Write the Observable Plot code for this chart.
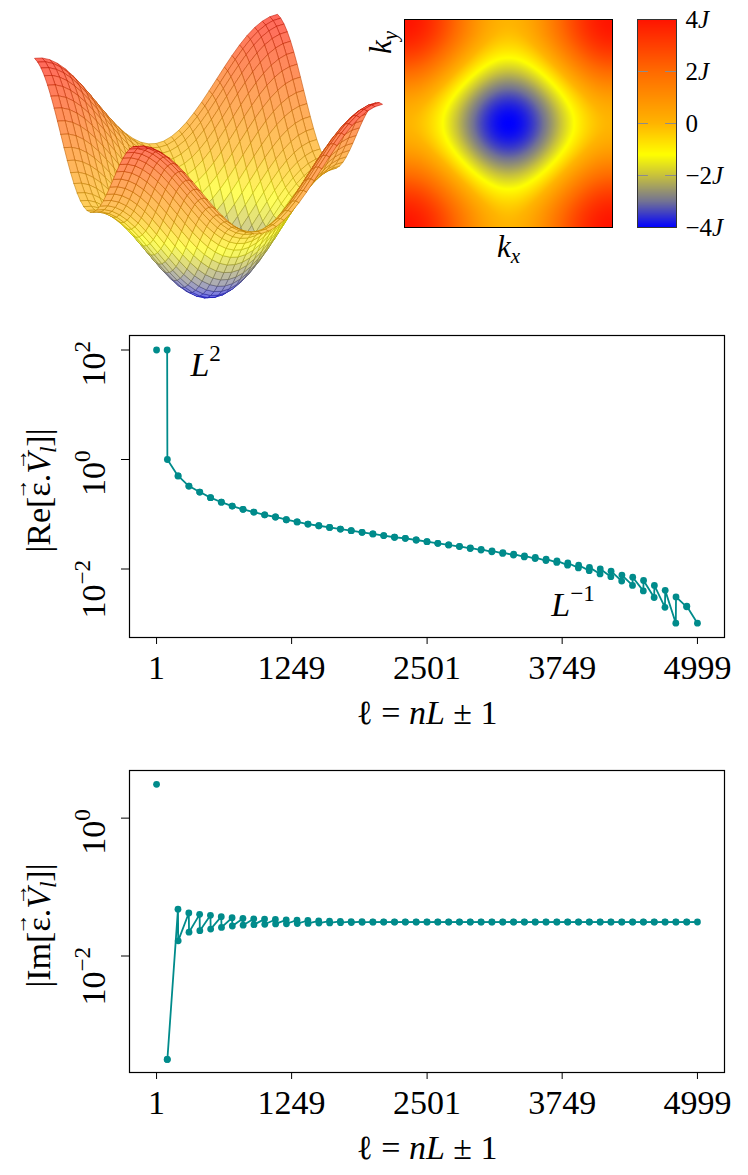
<!DOCTYPE html>
<html><head><meta charset="utf-8">
<script src="https://cdn.jsdelivr.net/npm/d3@7"></script>
<script src="https://cdn.jsdelivr.net/npm/@observablehq/plot@0.6"></script>
<style>
body{margin:0;background:#fff;}
#root{position:relative;width:748px;height:1175px;overflow:hidden;background:#fff;}
</style></head><body><div id="root"></div>
<script>
// ---------------- data ----------------
const xTicks = [1, 1249, 2501, 3749, 4999];
const reYTicks = [1e-2, 1e0, 1e2];
const imYTicks = [1e-2, 1e0];
const reYDomain = [Math.pow(10, -3.251), Math.pow(10, 2.265)];
const imYDomain = [Math.pow(10, -3.690), Math.pow(10, 0.691)];
const ells = [1, 99,101, 199,201, 299,301, 399,401, 499,501, 599,601, 699,701, 799,801, 899,901, 999,1001,
  1099,1101, 1199,1201, 1299,1301, 1399,1401, 1499,1501, 1599,1601, 1699,1701, 1799,1801, 1899,1901, 1999,2001,
  2099,2101, 2199,2201, 2299,2301, 2399,2401, 2499,2501, 2599,2601, 2699,2701, 2799,2801, 2899,2901, 2999,3001,
  3099,3101, 3199,3201, 3299,3301, 3399,3401, 3499,3501, 3599,3601, 3699,3701, 3799,3801, 3899,3901, 3999,4001,
  4099,4101, 4199,4201, 4299,4301, 4399,4401, 4499,4501, 4599,4601, 4699,4701, 4799,4801, 4899,4901, 4999];
// log10 |Re[eps.V_l]| in the same order as ells
const reLog10 = [2.0, 2.0,0.0, -0.30,-0.30, -0.485,-0.485, -0.594,-0.594, -0.697,-0.697, -0.78,-0.78, -0.85,-0.85,
  -0.91,-0.91, -0.96,-0.96, -1.01,-1.01, -1.05,-1.05, -1.10,-1.10, -1.14,-1.14, -1.18,-1.18, -1.21,-1.21,
  -1.24,-1.24, -1.27,-1.27, -1.30,-1.30, -1.33,-1.33, -1.36,-1.36, -1.39,-1.39, -1.42,-1.42, -1.44,-1.44,
  -1.47,-1.47, -1.50,-1.50, -1.53,-1.53, -1.56,-1.56, -1.59,-1.585, -1.625,-1.615, -1.655,-1.64, -1.685,-1.67,
  -1.715,-1.70, -1.745,-1.73, -1.78,-1.76, -1.81,-1.79, -1.845,-1.82, -1.88,-1.85, -1.93,-1.89, -1.98,-1.93,
  -2.03,-1.97, -2.09,-2.00, -2.14,-2.04, -2.22,-2.11, -2.30,-2.15, -2.40,-2.21, -2.52,-2.30, -2.70,-2.39,
  -2.99,-2.51, -2.69,-2.68, -2.99];
// log10 |Im[eps.V_l]| in the same order as ells
const imLog10 = [0.49,
  -3.50,-3.50,  -1.32,-1.78,   -1.376,-1.655, -1.396,-1.633, -1.41,-1.61,
  -1.43,-1.585, -1.445,-1.565, -1.455,-1.553, -1.46,-1.545,  -1.465,-1.54,
  -1.47,-1.535, -1.475,-1.532, -1.48,-1.53,   -1.485,-1.527, -1.49,-1.523,
  -1.494,-1.52, -1.497,-1.517, -1.50,-1.514,  -1.502,-1.512, -1.504,-1.51,
  -1.506,-1.508, -1.506,-1.508, -1.506,-1.508, -1.506,-1.508, -1.506,-1.508,
  -1.506,-1.508, -1.506,-1.508, -1.506,-1.508, -1.506,-1.508, -1.506,-1.508,
  -1.506,-1.508, -1.506,-1.508, -1.506,-1.508, -1.506,-1.508, -1.506,-1.508,
  -1.506,-1.508, -1.506,-1.508, -1.506,-1.508, -1.506,-1.508, -1.506,-1.508,
  -1.506,-1.508, -1.506,-1.508, -1.506,-1.508, -1.506,-1.508, -1.506,-1.508,
  -1.506,-1.508, -1.506,-1.508, -1.506,-1.508, -1.506,-1.508,
  -1.507];
const reNotes = [{ell: 314, log: 1.53, key: "L2"}, {ell: 3649, log: -2.85, key: "L-1"}];
// band energy colour map (units of J)
const energyStops = [-4, -3, -2, -1.2, 0, 2, 4];
const energyColors = ["#0000ff", "#727294", "#c8c23c", "#ffff00", "#ffb400", "#ff6a00", "#ff1400"];
const cbarTicks = [4, 2, 0, -2, -4];
const cbarLabels = ["4J", "2J", "0", "−2J", "−4J"];
const kCount = 33; // grid lines of the 3D mesh
const teal = "#008b8b";
const serif = '"Liberation Serif", "Times New Roman", serif';

// tight-binding band E(kx,ky) = -2J (cos kx + cos ky)
function energy(kx, ky) { return -2 * (Math.cos(kx) + Math.cos(ky)); }

// ---------------- rich text helpers ----------------
const RICH = {
  "10^2": [{t: "10"}, {t: "2", sup: 1}],
  "10^0": [{t: "10"}, {t: "0", sup: 1}],
  "10^-2": [{t: "10"}, {t: "−2", sup: 1}],
  "XL": [{t: "ℓ"}, {t: " = "}, {t: "nL", it: 1}, {t: " ± 1"}],
  "RE": [{t: "|Re["}, {t: "ε", arrow: 1}, {t: "."}, {t: "V", it: 1, arrow: 1}, {t: "l", it: 1, sub: 1}, {t: "]|"}],
  "IM": [{t: "|Im["}, {t: "ε", arrow: 1}, {t: "."}, {t: "V", it: 1, arrow: 1}, {t: "l", it: 1, sub: 1}, {t: "]|"}],
  "L2": [{t: "L", it: 1}, {t: "2", sup: 1}],
  "L-1": [{t: "L", it: 1}, {t: "−1", sup: 1}],
  "kx": [{t: "k", it: 1}, {t: "x", it: 1, sub: 1}],
  "ky": [{t: "k", it: 1}, {t: "y", it: 1, sub: 1}],
  "4J": [{t: "4"}, {t: "J", it: 1}],
  "2J": [{t: "2"}, {t: "J", it: 1}],
  "0": [{t: "0"}],
  "−2J": [{t: "−2"}, {t: "J", it: 1}],
  "−4J": [{t: "−4"}, {t: "J", it: 1}]
};
const mctx = document.createElement("canvas").getContext("2d");
function tw(t, size, it) { mctx.font = (it ? "italic " : "") + size + "px " + serif; return mctx.measureText(t).width; }
function renderRich(el, segs) {
  const F = parseFloat(getComputedStyle(el).fontSize) || 30;
  const ns = "http://www.w3.org/2000/svg";
  while (el.firstChild) el.removeChild(el.firstChild);
  let shift = 0, pendDx = 0;
  for (const s of segs) {
    const size = (s.sup || s.sub) ? 0.68 * F : F;
    const target = s.sup ? -0.42 * F : s.sub ? 0.2 * F : 0;
    const ts = document.createElementNS(ns, "tspan");
    ts.textContent = s.t;
    ts.setAttribute("font-size", size);
    if (s.it) ts.setAttribute("font-style", "italic");
    if (target !== shift) ts.setAttribute("dy", target - shift);
    if (pendDx) ts.setAttribute("dx", pendDx);
    shift = target; pendDx = 0;
    el.appendChild(ts);
    if (s.arrow) {
      const w = tw(s.t, size, s.it), aF = 0.62 * F, wa = tw("→", aF, false);
      const skew = s.it ? 0.1 * F : 0;
      const a = document.createElementNS(ns, "tspan");
      a.textContent = "→"; a.setAttribute("font-size", aF);
      a.setAttribute("dx", -(w / 2 + wa / 2) + skew);
      const up = target - 0.66 * F;
      a.setAttribute("dy", up - shift);
      shift = up;
      el.appendChild(a);
      pendDx = w / 2 - wa / 2 - skew;
    }
  }
}
function richify(svg) {
  svg.querySelectorAll("text").forEach(el => {
    const k = el.textContent;
    if (RICH[k]) renderRich(el, RICH[k]);
  });
}
function place(node, left, top) {
  node.style.position = "absolute";
  node.style.left = left + "px";
  node.style.top = top + "px";
  node.style.background = "transparent";
  node.style.maxWidth = "none";
  document.getElementById("root").appendChild(node);
  richify(node);
}
const baseStyle = {background: "transparent", fontFamily: serif, color: "black", overflow: "visible"};

// ---------------- 3D surface ----------------
const kGrid = d3.range(kCount).map(i => -Math.PI + (2 * Math.PI * i) / (kCount - 1));
const view = {cx: 208, cy: 188, ax: 121.5, ay: -22, bx: -52.5, by: -45, hz: 26.8};
const cmap = d3.scaleLinear().domain(energyStops).range(energyColors).interpolate(d3.interpolateRgb);
function project(kx, ky) {
  const u = kx / Math.PI, v = ky / Math.PI, e = energy(kx, ky);
  const py = view.cy + u * view.ay + v * view.by;
  return {X: view.cx + u * view.ax + v * view.bx, Y: py - e * view.hz, depth: py, e};
}
const quads = [];
for (let i = 0; i < kCount - 1; i++) for (let j = 0; j < kCount - 1; j++) {
  const pts = [[i, j], [i + 1, j], [i + 1, j + 1], [i, j + 1]].map(([a, b]) => project(kGrid[a], kGrid[b]));
  const e = d3.mean(pts, p => p.e), depth = d3.mean(pts, p => p.depth);
  const c = cmap(e);
  quads.push({pts, depth, fill: d3.interpolateRgb("#ffffff", c)(0.64), stroke: d3.interpolateRgb(c, "#000000")(0.25)});
}
quads.sort((a, b) => a.depth - b.depth);
const meshPts = quads.flatMap((q, id) => [...q.pts, q.pts[0]].map(p => ({X: p.X, Y: p.Y, id, fill: q.fill, stroke: q.stroke})));
const surface = Plot.plot({
  width: 395, height: 305, margin: 0,
  style: baseStyle,
  x: {domain: [0, 395], axis: null},
  y: {domain: [0, 305], range: [0, 305], axis: null},
  color: {type: "identity"},
  marks: [
    Plot.line(meshPts, {x: "X", y: "Y", z: "id", fill: "fill", stroke: "stroke", strokeWidth: 0.65, strokeOpacity: 0.85, curve: "linear"})
  ]
});
place(surface, 0, 0);

// ---------------- heat map ----------------
const heatMarks = [];
if (typeof Plot.raster === "function") {
  heatMarks.push(Plot.raster({x1: -Math.PI, x2: Math.PI, y1: -Math.PI, y2: Math.PI, fill: (x, y) => energy(x, y), pixelSize: 1}));
} else {
  const g = d3.range(104).map(i => -Math.PI + (i + 0.5) * 2 * Math.PI / 104), h = 2 * Math.PI / 104;
  const cells = g.flatMap(x => g.map(y => ({x, y, e: energy(x, y)})));
  heatMarks.push(Plot.rect(cells, {x1: d => d.x - h / 2, x2: d => d.x + h / 2, y1: d => d.y - h / 2, y2: d => d.y + h / 2, fill: "e", stroke: "e", strokeWidth: 0.3}));
}
const heat = Plot.plot({
  width: 265, height: 270, marginLeft: 49, marginRight: 8, marginTop: 19, marginBottom: 43,
  style: baseStyle,
  x: {domain: [-Math.PI, Math.PI], axis: null},
  y: {domain: [-Math.PI, Math.PI], axis: null},
  color: {type: "linear", domain: energyStops, range: energyColors, interpolate: "rgb"},
  marks: [
    ...heatMarks,
    Plot.frame({stroke: "black", strokeWidth: 1}),
    Plot.text(["kx"], {frameAnchor: "bottom", dy: 29, lineAnchor: "bottom", fontSize: 31}),
    Plot.text(["ky"], {frameAnchor: "top-left", dx: -14, dy: 23, rotate: -90, textAnchor: "middle", lineAnchor: "bottom", fontSize: 31})
  ]
});
place(heat, 355, 0);

// ---------------- colour bar ----------------
const cbarMarks = [];
if (typeof Plot.raster === "function") {
  cbarMarks.push(Plot.raster({x1: 0, x2: 1, y1: -4, y2: 4, fill: (x, y) => y, pixelSize: 1}));
} else {
  const s = d3.range(208).map(i => -4 + (i + 0.5) * 8 / 208);
  cbarMarks.push(Plot.rect(s, {x1: 0, x2: 1, y1: d => d - 4 / 208, y2: d => d + 4 / 208, fill: d => d, stroke: d => d, strokeWidth: 0.3}));
}
const cbar = Plot.plot({
  width: 118, height: 245, marginLeft: 7, marginRight: 72, marginTop: 19, marginBottom: 18,
  style: baseStyle,
  x: {domain: [0, 1], axis: null},
  y: {domain: [-4, 4], axis: null},
  color: {type: "linear", domain: energyStops, range: energyColors, interpolate: "rgb"},
  marks: [
    ...cbarMarks,
    Plot.ruleY([2, 0, -2], {x1: 0, x2: 0.28, stroke: "#8c8c8c", strokeWidth: 1}),
    Plot.ruleY([2, 0, -2], {x1: 0.72, x2: 1, stroke: "#8c8c8c", strokeWidth: 1}),
    Plot.frame({stroke: "#333", strokeWidth: 1}),
    Plot.text(cbarTicks, {y: d => d, text: (d, i) => cbarLabels[i], frameAnchor: "right", dx: 9, textAnchor: "start", lineAnchor: "middle", fontSize: 25})
  ]
});
place(cbar, 630, 0);

// ---------------- line plots ----------------
function linePlot({height, marginTop, marginBottom, logs, yDomain, yTicks, yKey, notes}) {
  const pts = ells.map((l, i) => ({ell: l, v: Math.pow(10, logs[i])}));
  const keyOf = d => d === 1e2 ? "10^2" : d === 1 ? "10^0" : "10^-2";
  return Plot.plot({
    width: 748, height, marginLeft: 129, marginRight: 24, marginTop, marginBottom,
    style: {...baseStyle, fontSize: "34px"},
    x: {domain: [-249, 5249], ticks: xTicks, tickFormat: d => String(d), tickSize: 7, tickPadding: 10, label: null},
    y: {type: "log", domain: yDomain, ticks: yTicks, tickFormat: () => "", tickSize: 8, label: null},
    marks: [
      Plot.line(pts.slice(1), {x: "ell", y: "v", stroke: teal, strokeWidth: 1.8}),
      Plot.dot(pts, {x: "ell", y: "v", r: 3.4, fill: teal}),
      Plot.frame({stroke: "black", strokeWidth: 1.2}),
      Plot.text(yTicks, {y: d => d, text: keyOf, frameAnchor: "left", dx: -25, dy: -9, rotate: -90, textAnchor: "end", lineAnchor: "bottom", fontSize: 34}),
      Plot.text([yKey], {frameAnchor: "left", dx: -80, dy: 4, rotate: -90, textAnchor: "middle", lineAnchor: "bottom", fontSize: 34}),
      Plot.text(["XL"], {frameAnchor: "bottom", dy: 86, lineAnchor: "bottom", fontSize: 34}),
      Plot.text(notes, {x: "ell", y: d => Math.pow(10, d.log), text: "key", textAnchor: "start", lineAnchor: "bottom", fontSize: 34})
    ]
  });
}
const p1 = linePlot({height: 440, marginTop: 35, marginBottom: 103, logs: reLog10, yDomain: reYDomain, yTicks: reYTicks, yKey: "RE", notes: reNotes});
place(p1, 0, 300);
const p2 = linePlot({height: 430, marginTop: 25, marginBottom: 103, logs: imLog10, yDomain: imYDomain, yTicks: imYTicks, yKey: "IM", notes: []});
place(p2, 0, 745);
</script></body></html>
